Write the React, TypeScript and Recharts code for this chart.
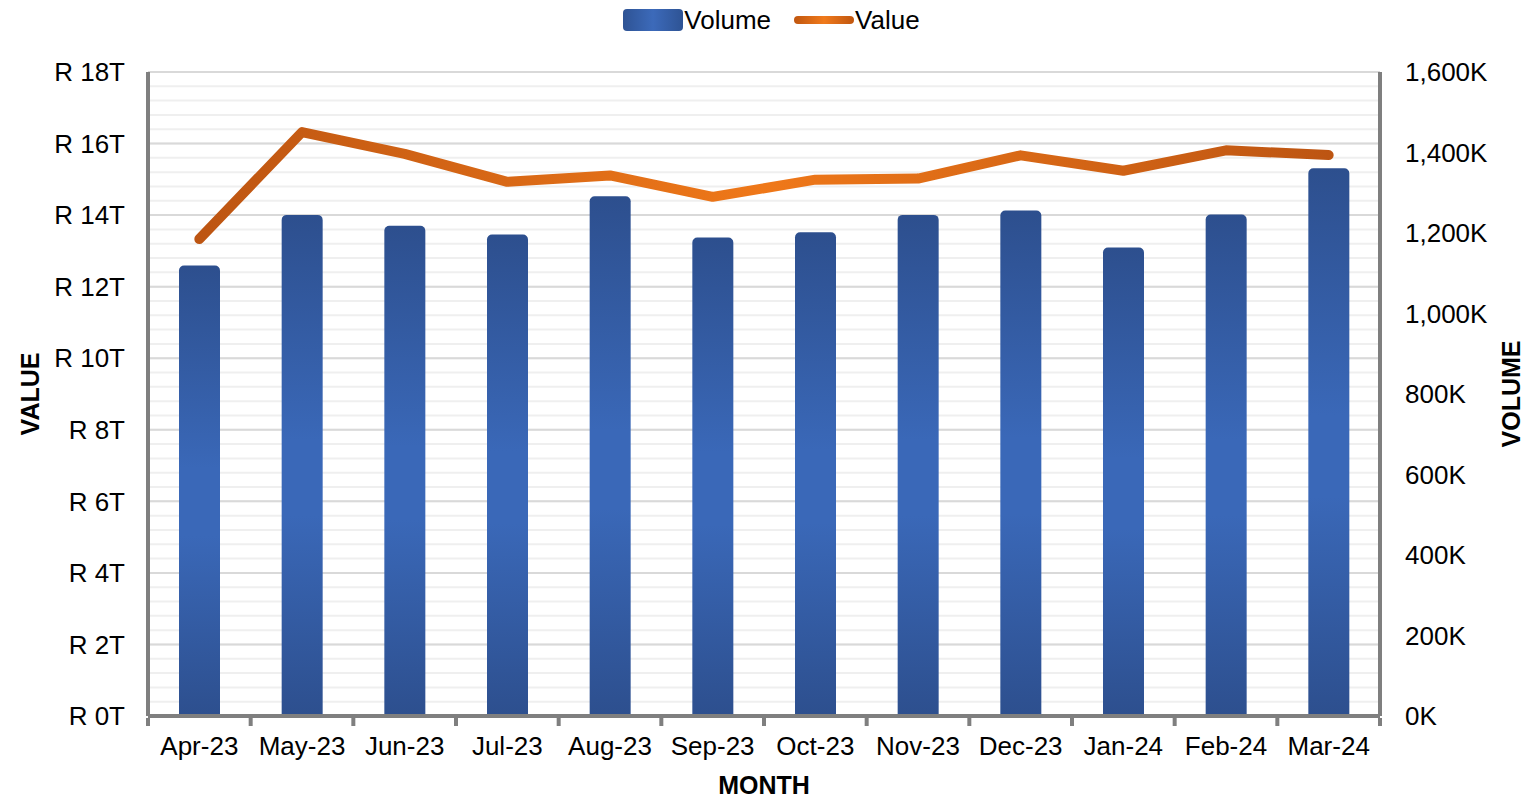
import { ComposedChart, Bar, Line, XAxis, YAxis, CartesianGrid, Legend } from 'recharts'

const months = ['Apr-23', 'May-23', 'Jun-23', 'Jul-23', 'Aug-23', 'Sep-23', 'Oct-23', 'Nov-23', 'Dec-23', 'Jan-24', 'Feb-24', 'Mar-24']
// transaction count
const volume = [1119000, 1245000, 1218000, 1196000, 1291000, 1189000, 1202000, 1245000, 1256000, 1164000, 1246000, 1361000]
// rand value, in trillions
const valueT = [13.33, 16.32, 15.71, 14.93, 15.11, 14.51, 14.99, 15.02, 15.67, 15.24, 15.81, 15.68]

const VALUE_MAX = 18
const valueTicks = [0, 2, 4, 6, 8, 10, 12, 14, 16, 18]
const minorTicks = Array.from({ length: 46 }, (_, i) => Math.round(i * 4) / 10)
const volumeTicks = [0, 200000, 400000, 600000, 800000, 1000000, 1200000, 1400000, 1600000]

const data = months.map((m, i) => ({ month: m, volume: volume[i], value: valueT[i] }))

const FONT = '"Liberation Sans", Arial, sans-serif'
const FS = 26
const AXIS_GREY = '#7f7f7f'
const BAND = (1380 - 148) / months.length

const fmtValue = (v: number) => `R ${v}T`
const fmtVolume = (v: number) => `${(v / 1000).toLocaleString('en-US')}K`

// minor grid every 0.4T, same scale as the value axis
const minorLines = ({ offset }: any) =>
  minorTicks.map((t) => offset.top + offset.height * (1 - t / VALUE_MAX))

const MonthTick = (props: any) => {
  const { x, y, payload, index } = props
  const left = x - BAND / 2
  return (
    <g>
      <line x1={left} y1={y - 6} x2={left} y2={y + 2} stroke={AXIS_GREY} strokeWidth={4} />
      {index === months.length - 1 && (
        <line x1={x + BAND / 2} y1={y - 6} x2={x + BAND / 2} y2={y + 2} stroke={AXIS_GREY} strokeWidth={4} />
      )}
      <text x={x} y={y + 31} textAnchor="middle" fontSize={FS} fontFamily={FONT} fill="#000">
        {payload.value}
      </text>
    </g>
  )
}

const LegendContent = () => (
  <div style={{ display: 'flex', justifyContent: 'center', alignItems: 'center', fontFamily: FONT, fontSize: FS, color: '#000', height: 40, paddingLeft: 18 }}>
    <svg width={62} height={24}>
      <defs>
        <linearGradient id="legBar" x1="0" y1="0" x2="1" y2="0">
          <stop offset="0" stopColor="#2e5394" />
          <stop offset="0.5" stopColor="#3c6aba" />
          <stop offset="1" stopColor="#2e5394" />
        </linearGradient>
      </defs>
      <rect x={1} y={1} width={60} height={22} rx={4} fill="url(#legBar)" />
    </svg>
    <span style={{ marginRight: 22 }}>Volume</span>
    <svg width={62} height={12}>
      <defs>
        <linearGradient id="legLine" x1="0" y1="0" x2="1" y2="0">
          <stop offset="0" stopColor="#c0560f" />
          <stop offset="0.5" stopColor="#f07a1c" />
          <stop offset="1" stopColor="#c0560f" />
        </linearGradient>
      </defs>
      <rect x={1} y={2} width={60} height={8} rx={4} fill="url(#legLine)" />
    </svg>
    <span>Value</span>
  </div>
)

const SideLabel = ({ viewBox, text, cx }: any) => {
  const cy = viewBox.y + viewBox.height / 2
  return (
    <text x={cx} y={cy} transform={`rotate(-90 ${cx} ${cy})`} textAnchor="middle" dominantBaseline="central"
      fontSize={25} fontWeight="bold" fontFamily={FONT} fill="#000">
      {text}
    </text>
  )
}

const App = () => {
  return (
    <div style={{ position: 'absolute', left: 0, top: 0, background: '#fff' }}>
      <ComposedChart width={1524} height={798} data={data} margin={{ top: 32, right: 0, bottom: 0, left: 0 }} barSize={41}>
        <defs>
          <linearGradient id="barFill" x1="0" y1="0" x2="0" y2="1">
            <stop offset="0" stopColor="#2d4f8e" />
            <stop offset="0.45" stopColor="#3a68b8" />
            <stop offset="0.6" stopColor="#3a68b8" />
            <stop offset="1" stopColor="#2d4f8e" />
          </linearGradient>
          <linearGradient id="lineFill" x1="0" y1="0" x2="1" y2="0">
            <stop offset="0" stopColor="#bd5512" />
            <stop offset="0.5" stopColor="#ef7819" />
            <stop offset="1" stopColor="#bd5512" />
          </linearGradient>
        </defs>
        <Legend verticalAlign="top" align="center" height={40} content={<LegendContent />} wrapperStyle={{ top: 0 }} />
        <CartesianGrid vertical={false} stroke="#efefef" strokeWidth={2} horizontalCoordinatesGenerator={minorLines} />
        <CartesianGrid yAxisId="left" vertical={false} stroke="#d9d9d9" strokeWidth={2} />
        <XAxis dataKey="month" height={82} interval={0} tickLine={false} tick={<MonthTick />}
          axisLine={{ stroke: AXIS_GREY, strokeWidth: 4 }}
          label={{ value: 'MONTH', position: 'insideBottom', offset: 4, fontSize: 25, fontWeight: 'bold', fontFamily: FONT, fill: '#000' }} />
        <YAxis yAxisId="left" width={148} domain={[0, VALUE_MAX]} ticks={valueTicks} tickFormatter={fmtValue} tickLine={false}
          tickMargin={17} axisLine={{ stroke: AXIS_GREY, strokeWidth: 4 }}
          tick={{ fontSize: FS, fontFamily: FONT, fill: '#000' }}
          label={<SideLabel text="VALUE" cx={30} />} />
        <YAxis yAxisId="right" orientation="right" width={144} domain={[0, 1600000]} ticks={volumeTicks}
          tickFormatter={fmtVolume} tickLine={false} tickMargin={19} axisLine={{ stroke: AXIS_GREY, strokeWidth: 4 }}
          tick={{ fontSize: FS, fontFamily: FONT, fill: '#000' }}
          label={<SideLabel text="VOLUME" cx={1511} />} />
        <Bar yAxisId="right" dataKey="volume" name="Volume" fill="url(#barFill)" radius={[5, 5, 0, 0]} isAnimationActive={false} />
        <Line yAxisId="left" dataKey="value" name="Value" type="linear" stroke="url(#lineFill)" strokeWidth={10}
          strokeLinecap="round" strokeLinejoin="round" dot={false} activeDot={false} isAnimationActive={false} />
      </ComposedChart>
    </div>
  )
}

export default App
